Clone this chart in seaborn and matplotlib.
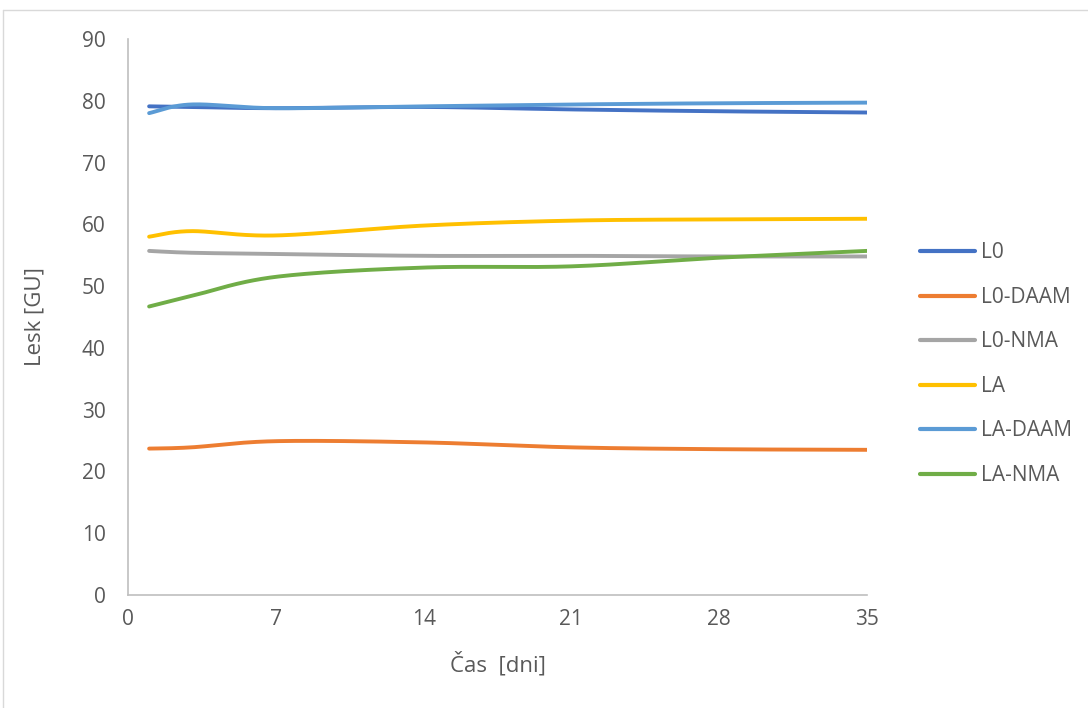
import numpy as np
import pandas as pd
import matplotlib
matplotlib.use("Agg")
import matplotlib.pyplot as plt
from matplotlib.lines import Line2D
import seaborn as sns

# Measurement days and gloss values [GU]
days = [1, 3, 7, 14, 21, 28, 35]
series_names = ["L0", "L0-DAAM", "L0-NMA", "LA", "LA-DAAM", "LA-NMA"]
L0 = [79.1, 79.0, 78.8, 79.0, 78.6, 78.3, 78.1]
L0_DAAM = [23.7, 23.9, 24.9, 24.7, 23.9, 23.6, 23.5]
L0_NMA = [55.7, 55.4, 55.2, 54.9, 54.9, 54.8, 54.8]
LA = [58.0, 58.9, 58.2, 59.8, 60.6, 60.8, 60.9]
LA_DAAM = [78.0, 79.4, 78.8, 79.1, 79.4, 79.6, 79.7]
LA_NMA = [46.7, 48.4, 51.5, 53.0, 53.2, 54.6, 55.7]
values = [L0, L0_DAAM, L0_NMA, LA, LA_DAAM, LA_NMA]
colors = ["#4472C4", "#ED7D31", "#A5A5A5", "#FFC000", "#5B9BD5", "#70AD47"]

x_ticks = [0, 7, 14, 21, 28, 35]
y_ticks = [0, 10, 20, 30, 40, 50, 60, 70, 80, 90]


def smooth(xs, ys, n=40):
    """Catmull-Rom style Bezier smoothing through the given points."""
    P = np.column_stack([xs, ys]).astype(float)
    P = np.vstack([P[0], P, P[-1]])
    out = []
    t = np.linspace(0, 1, n)[:, None]
    for i in range(1, len(P) - 2):
        p0, p1, p2, p3 = P[i - 1], P[i], P[i + 1], P[i + 2]
        b1 = p1 + (p2 - p0) / 6.0
        b2 = p2 - (p3 - p1) / 6.0
        seg = ((1 - t) ** 3) * p1 + 3 * ((1 - t) ** 2) * t * b1 \
            + 3 * (1 - t) * t ** 2 * b2 + t ** 3 * p2
        out.append(seg if i == 1 else seg[1:])
    out = np.vstack(out)
    return out[:, 0], out[:, 1]


frames = []
for name, vals in zip(series_names, values):
    sx, sy = smooth(days, vals)
    frames.append(pd.DataFrame({"x": sx, "y": sy, "series": name}))
df = pd.concat(frames, ignore_index=True)

sns.set_theme(style="white")
plt.rcParams["font.family"] = ["Open Sans", "DejaVu Sans"]

fig = plt.figure(figsize=(10.88, 7.08), dpi=100)
ax = fig.add_axes([128 / 1088, 1 - 595 / 708, (867 - 128) / 1088, (595 - 39) / 708])

sns.lineplot(data=df, x="x", y="y", hue="series", hue_order=series_names,
             palette=colors, sort=False, estimator=None, units="series",
             linewidth=2.8, ax=ax, legend=False)

ax.set_xlim(0, 35)
ax.set_ylim(0, 90)
ax.set_xticks(x_ticks)
ax.set_yticks(y_ticks)
ax.tick_params(axis="both", length=0, labelsize=15, colors="#595959")
ax.tick_params(axis="y", pad=16)
ax.tick_params(axis="x", pad=10)
for side in ["top", "right"]:
    ax.spines[side].set_visible(False)
for side in ["left", "bottom"]:
    ax.spines[side].set_color("#BFBFBF")
    ax.spines[side].set_linewidth(1.2)
ax.set_xlabel("Čas  [dni]", fontsize=16, color="#595959", labelpad=16)
ax.set_ylabel("Lesk [GU]", fontsize=16, color="#595959", labelpad=26)

handles = [Line2D([0], [0], color=c, lw=3.0, solid_capstyle="round") for c in colors]
fig.legend(handles, series_names, loc="upper left",
           bbox_to_anchor=(912 / 1088, 1 - 234 / 708), frameon=False,
           fontsize=15, labelcolor="#595959", handlelength=2.6,
           handletextpad=0.3, labelspacing=1.13, borderaxespad=0)

# Light outer frame of the chart area
fig.add_artist(Line2D([3 / 1088, 1], [1 - 10 / 708, 1 - 10 / 708],
                      transform=fig.transFigure, color="#D9D9D9", lw=1))
fig.add_artist(Line2D([3 / 1088, 3 / 1088], [0, 1 - 10 / 708],
                      transform=fig.transFigure, color="#D9D9D9", lw=1))

fig.savefig("out.png", dpi=100, facecolor="white")
